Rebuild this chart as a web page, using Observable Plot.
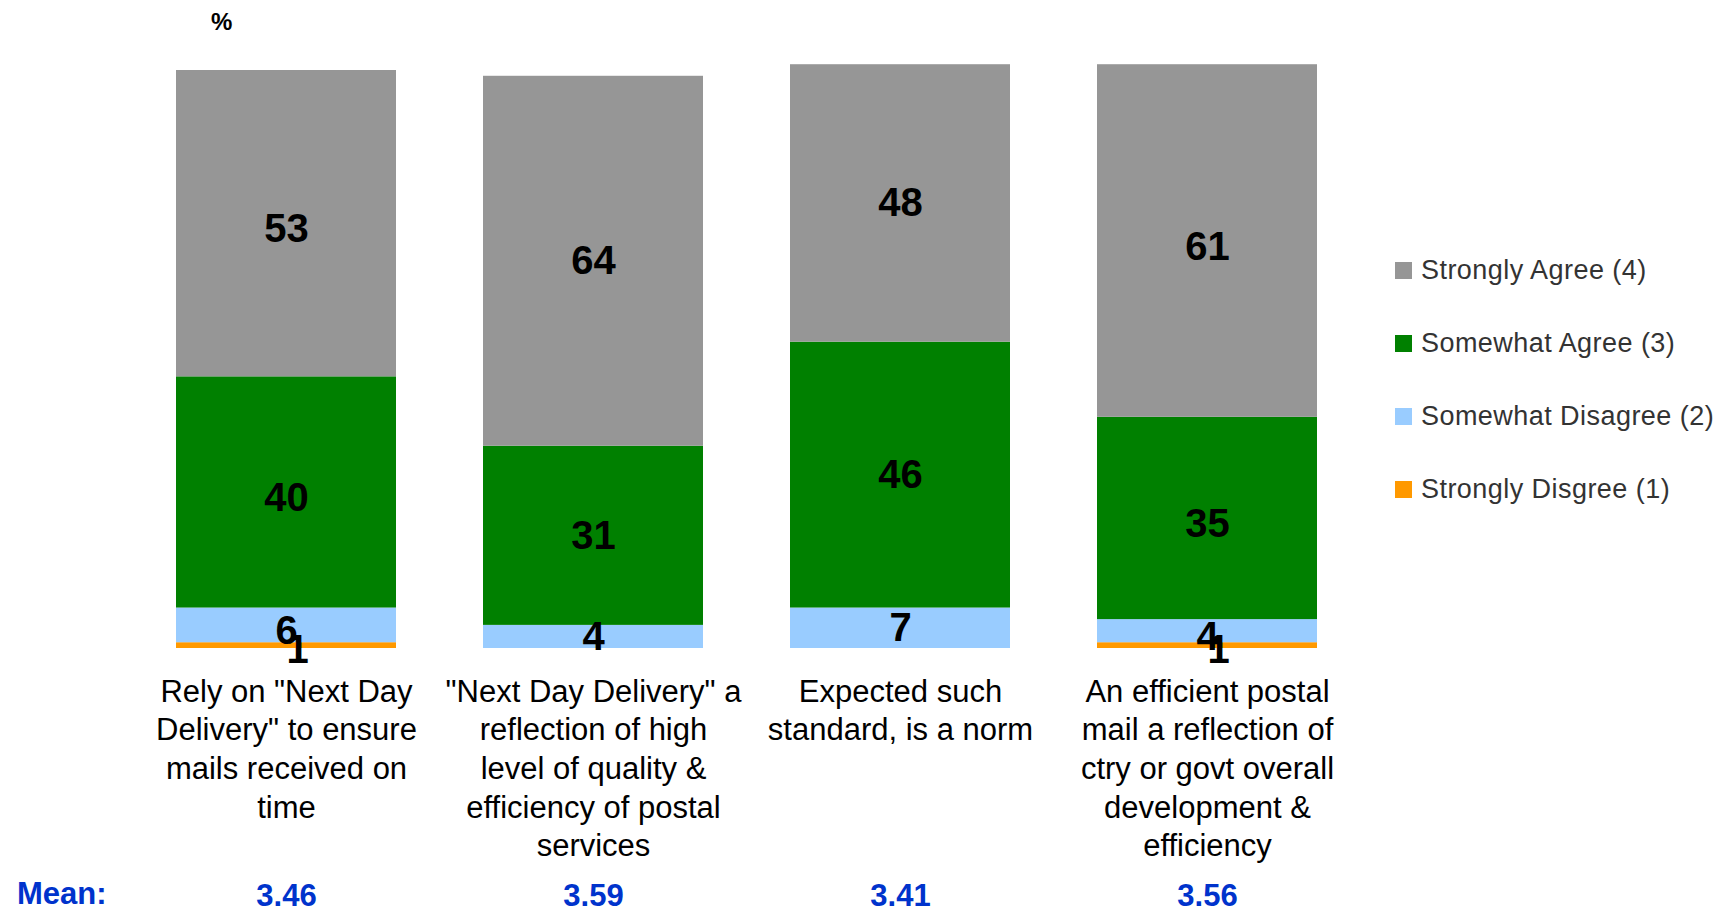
<!DOCTYPE html>
<html>
<head>
<meta charset="utf-8">
<script src="https://cdn.jsdelivr.net/npm/d3@7"></script>
<script src="https://cdn.jsdelivr.net/npm/@observablehq/plot@0.6"></script>
<style>
  html, body { margin: 0; padding: 0; background: #fff; }
  #wrap { position: relative; width: 1716px; height: 915px; overflow: hidden; font-family: "Liberation Sans", Arial, sans-serif; }
  #pct { position: absolute; left: 211px; top: 8px; font-size: 24px; font-weight: bold; color: #000; }
  #meanLabel { position: absolute; left: 17px; top: 876px; font-size: 31px; font-weight: bold; color: #0033cc; line-height: 36px; }
  #legend { position: absolute; left: 1395px; top: 252px; }
  .row { display: flex; align-items: center; height: 36px; margin-bottom: 37px; font-size: 27px; letter-spacing: 0.45px; color: #333; }
  .sw { width: 17px; height: 17px; margin-right: 9px; }
</style>
</head>
<body>
<div id="wrap">
  <div id="chart"></div>
  <div id="pct">%</div>
  <div id="meanLabel">Mean:</div>
  <div id="legend"></div>
</div>
<script>
const categories = [
  'Rely on "Next Day Delivery" to ensure mails received on time',
  '"Next Day Delivery" a reflection of high level of quality & efficiency of postal services',
  'Expected such standard, is a norm',
  'An efficient postal mail a reflection of ctry or govt overall development & efficiency'
];
const tickLabels = [
  'Rely on "Next Day\nDelivery" to ensure\nmails received on\ntime',
  '"Next Day Delivery" a\nreflection of high\nlevel of quality &\nefficiency of postal\nservices',
  'Expected such\nstandard, is a norm',
  'An efficient postal\nmail a reflection of\nctry or govt overall\ndevelopment &\nefficiency'
];
const series = ["Strongly Disgree (1)", "Somewhat Disagree (2)", "Somewhat Agree (3)", "Strongly Agree (4)"];
const colors = ["#ff9900", "#99ccff", "#008000", "#969696"];
const stronglyDisagree = [1, 0, 0, 1];
const somewhatDisagree = [6, 4, 7, 4];
const somewhatAgree = [40, 31, 46, 35];
const stronglyAgree = [53, 64, 48, 61];
const means = [3.46, 3.59, 3.41, 3.56];

const seriesValues = [stronglyDisagree, somewhatDisagree, somewhatAgree, stronglyAgree];
const data = [];
series.forEach((s, si) => categories.forEach((c, ci) => data.push({cat: c, series: s, value: seriesValues[si][ci]})));
const meanData = categories.map((c, i) => ({cat: c, mean: means[i]}));
const labelOf = new Map(categories.map((c, i) => [c, tickLabels[i]]));

const stackOpts = {x: "cat", y: "value", z: "series", order: series};

const chart = Plot.plot({
  width: 1716,
  height: 915,
  marginTop: 70,
  marginBottom: 267,
  marginLeft: 87,
  marginRight: 310,
  style: {fontFamily: '"Liberation Sans", Arial, sans-serif', background: "#fff"},
  x: {domain: categories, padding: 0.285},
  y: {domain: [0, 100], axis: null},
  color: {domain: series, range: colors},
  marks: [
    Plot.barY(data, Plot.stackY({...stackOpts, fill: "series"})),
    Plot.text(data, Plot.stackY({...stackOpts, filter: d => d.value > 0 && d.series !== series[0], text: d => String(d.value), fontSize: 40, fontWeight: "bold", fill: "#000"})),
    Plot.text(data, Plot.stackY({...stackOpts, filter: d => d.value > 0 && d.series === series[0], text: d => String(d.value), fontSize: 40, fontWeight: "bold", fill: "#000", dx: 11, dy: 5})),
    Plot.axisX({tickSize: 0, tickPadding: 26, fontSize: 31, lineHeight: 1.245, fill: "#000", tickFormat: c => labelOf.get(c), label: null}),
    Plot.text(meanData, {x: "cat", text: d => d.mean.toFixed(2), frameAnchor: "bottom", dy: 248, lineAnchor: "middle", fontSize: 31, fontWeight: "bold", fill: "#0033cc"})
  ]
});
document.getElementById("chart").appendChild(chart);

const legend = document.getElementById("legend");
[...series].reverse().forEach(s => {
  const row = document.createElement("div");
  row.className = "row";
  const sw = document.createElement("div");
  sw.className = "sw";
  sw.style.background = colors[series.indexOf(s)];
  const t = document.createElement("span");
  t.textContent = s;
  row.appendChild(sw);
  row.appendChild(t);
  legend.appendChild(row);
});
</script>
</body>
</html>
